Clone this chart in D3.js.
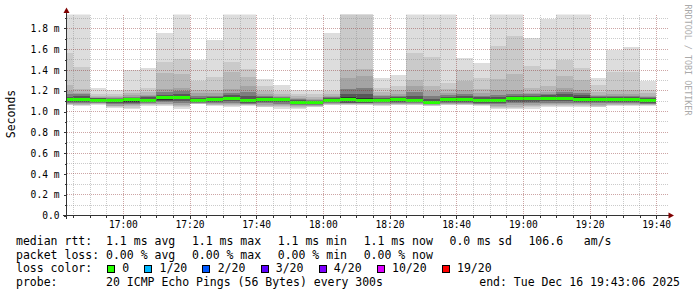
<!DOCTYPE html>
<html>
<head>
<meta charset="utf-8">
<script src="https://cdn.jsdelivr.net/npm/d3@7"></script>
<style>
  body { margin: 0; background: #fff; }
  svg { display: block; }
  text { font-family: "DejaVu Sans Mono", monospace; fill: #000; }
</style>
</head>
<body>
<div class="graph"></div>
<script>
// 5 minute steps (end of each step), 2025-12-16 UTC
const stepEnds = ["16:45","16:50","16:55","17:00","17:05","17:10","17:15","17:20","17:25","17:30","17:35","17:40",
  "17:45","17:50","17:55","18:00","18:05","18:10","18:15","18:20","18:25","18:30","18:35","18:40",
  "18:45","18:50","18:55","19:00","19:05","19:10","19:15","19:20","19:25","19:30","19:35","19:40"]

// sorted ping rtts per step, in ms (20 pings, only the ranks that show as smoke edges)
const rttMax = [2.0,2.0,1.225,1.205,1.40,1.42,1.757,2.0,1.50,1.69,2.0,2.0,1.31,1.254,1.21,1.205,1.757,2.0,2.0,1.32,1.35,2.0,2.0,2.0,1.52,1.47,2.0,2.0,1.71,1.89,2.0,2.0,1.32,1.59,1.62,1.29]
const rtt19 = [1.565,1.43,1.17,1.17,1.21,1.23,1.48,1.51,1.29,1.33,1.475,1.41,1.245,1.20,1.17,1.17,1.20,2.0,2.0,1.23,1.25,1.565,1.53,1.28,1.40,1.32,1.63,1.73,1.44,1.41,1.495,1.42,1.26,1.38,1.38,1.21]
const rtt18 = [1.26,1.22,1.15,1.15,1.18,1.19,1.37,1.36,1.21,1.21,1.38,1.33,1.20,1.17,1.15,1.14,1.17,1.40,1.41,1.19,1.21,1.30,1.25,1.22,1.29,1.22,1.31,1.36,1.23,1.25,1.34,1.30,1.19,1.21,1.21,1.18]
const rtt17 = [1.20,1.18,1.14,1.14,1.16,1.16,1.22,1.23,1.18,1.18,1.22,1.245,1.17,1.15,1.13,1.12,1.15,1.32,1.34,1.16,1.17,1.245,1.20,1.18,1.21,1.18,1.21,1.21,1.18,1.19,1.23,1.21,1.16,1.17,1.17,1.15]
const rtt15 = [1.17,1.165,1.135,1.13,1.145,1.15,1.19,1.20,1.15,1.155,1.18,1.19,1.155,1.14,1.12,1.11,1.14,1.22,1.23,1.15,1.155,1.19,1.15,1.16,1.17,1.155,1.16,1.17,1.165,1.17,1.19,1.18,1.155,1.15,1.155,1.14]
const rtt13 = [1.145,1.15,1.13,1.125,1.135,1.14,1.16,1.17,1.135,1.14,1.16,1.15,1.14,1.13,1.115,1.105,1.13,1.17,1.17,1.135,1.14,1.15,1.125,1.145,1.15,1.14,1.14,1.155,1.155,1.16,1.165,1.16,1.145,1.14,1.145,1.13]
const rtt11 = [1.13,1.135,1.12,1.115,1.12,1.125,1.145,1.15,1.12,1.125,1.14,1.125,1.125,1.12,1.105,1.095,1.12,1.14,1.135,1.12,1.125,1.125,1.105,1.13,1.13,1.12,1.12,1.14,1.14,1.14,1.145,1.14,1.135,1.125,1.13,1.12]
const medianRtt = [1.112,1.112,1.105,1.105,1.112,1.108,1.131,1.131,1.105,1.112,1.124,1.105,1.112,1.112,1.092,1.086,1.105,1.112,1.105,1.105,1.112,1.105,1.09,1.112,1.112,1.105,1.105,1.126,1.124,1.124,1.124,1.121,1.121,1.112,1.115,1.105]
const rtt10 = [1.10,1.10,1.095,1.09,1.095,1.10,1.115,1.12,1.095,1.10,1.11,1.095,1.10,1.10,1.08,1.075,1.095,1.10,1.09,1.095,1.10,1.095,1.08,1.10,1.10,1.095,1.09,1.11,1.11,1.11,1.11,1.105,1.105,1.10,1.10,1.095]
const rtt8 = [1.09,1.09,1.09,1.08,1.085,1.09,1.105,1.10,1.09,1.09,1.10,1.085,1.09,1.09,1.07,1.07,1.09,1.085,1.085,1.09,1.09,1.09,1.075,1.09,1.09,1.085,1.08,1.095,1.095,1.10,1.10,1.095,1.095,1.09,1.09,1.085]
const rtt6 = [1.08,1.08,1.085,1.07,1.075,1.08,1.09,1.085,1.085,1.08,1.085,1.075,1.08,1.075,1.06,1.06,1.08,1.08,1.08,1.08,1.08,1.08,1.07,1.08,1.08,1.075,1.07,1.08,1.08,1.085,1.085,1.085,1.08,1.08,1.08,1.075]
const rtt4 = [1.075,1.07,1.08,1.055,1.06,1.075,1.075,1.06,1.08,1.07,1.07,1.07,1.065,1.06,1.05,1.055,1.075,1.075,1.075,1.07,1.075,1.075,1.065,1.075,1.075,1.07,1.055,1.06,1.06,1.07,1.07,1.07,1.065,1.07,1.07,1.07]
const rtt3 = [1.07,1.065,1.075,1.05,1.05,1.07,1.07,1.05,1.078,1.065,1.06,1.065,1.055,1.05,1.04,1.05,1.07,1.07,1.07,1.065,1.07,1.07,1.06,1.07,1.07,1.065,1.045,1.045,1.05,1.06,1.06,1.06,1.055,1.065,1.065,1.065]
const rtt2 = [1.065,1.06,1.07,1.04,1.035,1.063,1.06,1.04,1.075,1.06,1.05,1.06,1.048,1.04,1.03,1.045,1.065,1.065,1.065,1.06,1.065,1.065,1.057,1.065,1.065,1.06,1.035,1.035,1.04,1.05,1.055,1.055,1.048,1.06,1.06,1.06]
const rttMin = [1.06,1.054,1.063,1.03,1.025,1.057,1.054,1.028,1.073,1.054,1.041,1.054,1.041,1.028,1.022,1.041,1.061,1.061,1.061,1.054,1.061,1.061,1.054,1.061,1.061,1.054,1.022,1.022,1.028,1.041,1.048,1.048,1.041,1.054,1.054,1.054]

// axes
const xTickTimes = ["17:00","17:20","17:40","18:00","18:20","18:40","19:00","19:20","19:40"]
const yTicks = [0, 0.2, 0.4, 0.6, 0.8, 1.0, 1.2, 1.4, 1.6, 1.8]

// legend
const medianStats = ["1.1 ms avg", "1.1 ms max", "1.1 ms min", "1.1 ms now", "0.0 ms sd", "106.6   am/s"]
const lossStats = ["0.00 % avg", "0.00 % max", "0.00 % min", "0.00 % now"]
const lossLabels = ["0", "1/20", "2/20", "3/20", "4/20", "10/20", "19/20"]
const lossColors = ["#26ff00", "#00b8ff", "#0059ff", "#5e00ff", "#7e00ff", "#dd00ff", "#ff0000"]
const probeText = "20 ICMP Echo Pings (56 Bytes) every 300s"
const endText = "end: Tue Dec 16 19:43:06 2025"

let width = 697, height = 297
let svg = d3.select("div.graph").append("svg")
  .attr("width", width)
  .attr("height", height)
svg.append("rect").attr("width", width).attr("height", height).attr("fill", "#fff")

const parseTime = d3.utcParse("%Y-%m-%d %H:%M:%S")
const day = "2025-12-16 "
let endTime = parseTime(day + "19:43:06")
let startTime = new Date(endTime.getTime() - 3 * 3600 * 1000)

let x = d3.scaleUtc().domain([startTime, endTime]).range([66.5, 666.5])
let y = d3.scaleLinear().domain([0, 1.925]).range([215.5, 15.5])

let steps = stepEnds.map(t => parseTime(day + t + ":00"))
let stepStart = i => d3.utcMinute.offset(steps[i], -5)

svg.append("clipPath").attr("id", "plotclip")
  .append("rect").attr("x", 66.5).attr("y", 14.5).attr("width", 600).attr("height", 201)

let plot = svg.append("g").attr("clip-path", "url(#plotclip)")

// smoke: outer pairs light, inner pairs dark
const layers = [
  { lo: rttMin, hi: rttMax, shade: 221 },
  { lo: rtt2, hi: rtt19, shade: 202 },
  { lo: rtt3, hi: rtt18, shade: 183 },
  { lo: rtt4, hi: rtt17, shade: 164 },
  { lo: rtt6, hi: rtt15, shade: 126 },
  { lo: rtt8, hi: rtt13, shade: 88 },
  { lo: rtt10, hi: rtt11, shade: 50 }
]
layers.forEach(layer => {
  plot.append("g").selectAll("rect")
    .data(steps)
    .enter()
    .append("rect")
    .attr("x", (d, i) => x(stepStart(i)))
    .attr("width", (d, i) => x(d) - x(stepStart(i)))
    .attr("y", (d, i) => y(layer.hi[i]))
    .attr("height", (d, i) => y(layer.lo[i]) - y(layer.hi[i]))
    .attr("fill", d3.rgb(layer.shade, layer.shade, layer.shade))
    .attr("shape-rendering", "crispEdges")
})

// median line, green = no loss
plot.append("g").selectAll("rect")
  .data(steps)
  .enter()
  .append("rect")
  .attr("x", (d, i) => x(stepStart(i)))
  .attr("width", (d, i) => x(d) - x(stepStart(i)))
  .attr("y", (d, i) => y(medianRtt[i]) - 1.5)
  .attr("height", 3)
  .attr("fill", lossColors[0])
  .attr("shape-rendering", "crispEdges")

// grid
const minorGrid = "rgba(140,140,140,0.45)", majorGrid = "rgba(130,30,30,0.4)"
let xMinor = d3.utcMinute.every(5).range(startTime, endTime)
let xMajor = xTickTimes.map(t => parseTime(day + t + ":00"))
let yMinor = d3.range(1, 20).map(v => v / 10)
let grid = svg.append("g").attr("shape-rendering", "crispEdges").attr("stroke-dasharray", "1,1")
grid.selectAll("line.vmin")
  .data(xMinor.filter(t => t.getUTCMinutes() % 20 != 0))
  .enter().append("line")
  .attr("x1", d => Math.round(x(d)) + 0.5).attr("x2", d => Math.round(x(d)) + 0.5)
  .attr("y1", 15).attr("y2", 215)
  .attr("stroke", minorGrid)
grid.selectAll("line.hmin")
  .data(yMinor.filter(v => Math.round(v * 10) % 2 != 0))
  .enter().append("line")
  .attr("x1", 67).attr("x2", 669)
  .attr("y1", d => Math.round(y(d) - 0.5) + 0.5).attr("y2", d => Math.round(y(d) - 0.5) + 0.5)
  .attr("stroke", minorGrid)
grid.selectAll("line.vmaj")
  .data(xMajor)
  .enter().append("line")
  .attr("x1", d => Math.round(x(d)) + 0.5).attr("x2", d => Math.round(x(d)) + 0.5)
  .attr("y1", 15).attr("y2", 215)
  .attr("stroke", majorGrid)
grid.selectAll("line.hmaj")
  .data(yTicks.filter(v => v > 0))
  .enter().append("line")
  .attr("x1", 67).attr("x2", 669)
  .attr("y1", d => Math.round(y(d) - 0.5) + 0.5).attr("y2", d => Math.round(y(d) - 0.5) + 0.5)
  .attr("stroke", majorGrid)

// axes
const axisColor = "#333333"
let xAxis = svg.append("g").attr("transform", "translate(0,215.5)")
  .call(d3.axisBottom(x).tickValues(xMinor).tickSize(2).tickFormat(""))
xAxis.append("g")
  .call(d3.axisBottom(x).tickValues(xMajor).tickSize(3).tickPadding(2.5).tickFormat(d3.utcFormat("%H:%M")))
let yAxis = svg.append("g").attr("transform", "translate(66.5,0)")
  .call(d3.axisLeft(y).tickValues(yMinor.concat([0])).tickSize(2).tickFormat(""))
yAxis.append("g")
  .call(d3.axisLeft(y).tickValues(yTicks).tickSize(3).tickPadding(4)
    .tickFormat(d => d == 0 ? "0.0" : d3.format(".1f")(d) + " m"))
svg.selectAll(".domain").remove()
svg.selectAll(".tick line").attr("stroke", axisColor).attr("shape-rendering", "crispEdges")
svg.selectAll(".tick text").attr("font-family", "DejaVu Sans Mono").attr("font-size", 9.6).attr("fill", "#000")

svg.append("line").attr("x1", 63).attr("x2", 670).attr("y1", 215.5).attr("y2", 215.5)
  .attr("stroke", axisColor).attr("shape-rendering", "crispEdges")
svg.append("line").attr("x1", 66.5).attr("x2", 66.5).attr("y1", 219).attr("y2", 11)
  .attr("stroke", axisColor).attr("shape-rendering", "crispEdges")
svg.append("path").attr("d", "M63.5,13L66.5,7.5L69.5,13Z").attr("fill", "#800000")
svg.append("path").attr("d", "M668.5,212.5L674,215.5L668.5,218.5Z").attr("fill", "#800000")

// labels
svg.append("text")
  .attr("transform", "translate(14.5,114) rotate(-90)")
  .attr("text-anchor", "middle")
  .attr("font-size", 11.5)
  .text("Seconds")
svg.append("text")
  .attr("transform", "translate(685,60) rotate(90)")
  .attr("text-anchor", "middle")
  .attr("font-size", 8.4)
  .style("fill", "#aaaaaa")
  .text("RRDTOOL / TOBI OETIKER")

// legend, rrdtool style
const legendSize = 11.5
let probe = svg.append("text").attr("font-size", legendSize).text("0000000000")
let charW = probe.node().getComputedTextLength() / 10
probe.remove()
let valueX = 16 + 13 * charW
let pieceGap = 2.4 * charW
let rowY = [245, 258.7, 272.4, 286]

let legend = svg.append("g").attr("font-size", legendSize)
const rowLabels = ["median rtt:", "packet loss:", "loss color:", "probe:"]
rowLabels.forEach((t, i) => legend.append("text").attr("x", 16).attr("y", rowY[i]).text(t))

const placeRow = (pieces, yy) => {
  let cx = valueX
  pieces.forEach(p => {
    let t = legend.append("text").attr("x", cx).attr("y", yy).attr("xml:space", "preserve").text(p)
    cx += t.node().getComputedTextLength() + pieceGap
  })
}
placeRow(medianStats, rowY[0])
placeRow(lossStats, rowY[1])

let cx = valueX + 1
lossLabels.forEach((lab, i) => {
  legend.append("rect")
    .attr("x", Math.round(cx) + 0.5).attr("y", 265.5)
    .attr("width", 7).attr("height", 7)
    .attr("fill", lossColors[i]).attr("stroke", "#000")
  let t = legend.append("text").attr("x", cx + 15.2).attr("y", rowY[2]).text(lab)
  cx = cx + 15.2 + t.node().getComputedTextLength() + 15.2
})

legend.append("text").attr("x", valueX).attr("y", rowY[3]).text(probeText)
legend.append("text").attr("x", 680).attr("y", rowY[3]).attr("text-anchor", "end").text(endText)
</script>
</body>
</html>
